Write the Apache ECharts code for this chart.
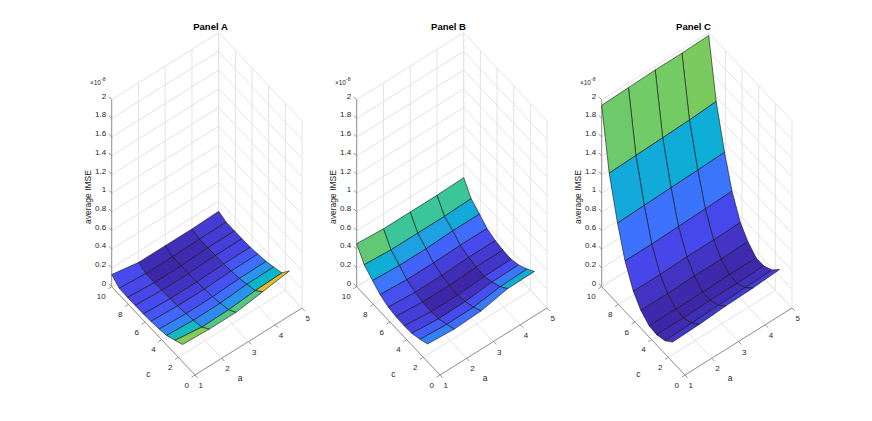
<!DOCTYPE html>
<html>
<head>
<meta charset="utf-8">
<script src="https://cdn.jsdelivr.net/npm/echarts@6/dist/echarts.min.js"></script>
<style>
  html, body { margin: 0; padding: 0; background: #fff; }
  #chart { width: 872px; height: 421px; }
</style>
</head>
<body>
<div id="chart"></div>
<script>
// surface grid
const aValues = [1, 2, 3, 4, 5]
const cValues = [1.5, 2.4, 3.4, 4.3, 5.3, 6.2, 7.2, 8.1, 9.1, 10]

// average IMSE in units of 1e-8, one row per c value, one column per a value
const imseA = [
    [0.185, 0.170, 0.170, 0.212, 0.255],
    [0.144, 0.106, 0.112, 0.138, 0.149],
    [0.102, 0.085, 0.089, 0.112, 0.117],
    [0.085, 0.070, 0.072, 0.089, 0.093],
    [0.074, 0.059, 0.059, 0.074, 0.076],
    [0.068, 0.051, 0.051, 0.063, 0.065],
    [0.065, 0.046, 0.046, 0.059, 0.061],
    [0.065, 0.042, 0.044, 0.057, 0.059],
    [0.068, 0.046, 0.048, 0.057, 0.059],
    [0.130, 0.080, 0.080, 0.080, 0.090]
]
const imseB = [
    [0.190, 0.170, 0.185, 0.245, 0.250],
    [0.155, 0.135, 0.140, 0.180, 0.190],
    [0.125, 0.100, 0.105, 0.135, 0.140],
    [0.120, 0.090, 0.090, 0.110, 0.115],
    [0.125, 0.100, 0.100, 0.115, 0.120],
    [0.140, 0.120, 0.120, 0.135, 0.135],
    [0.180, 0.160, 0.160, 0.170, 0.170],
    [0.245, 0.227, 0.227, 0.240, 0.240],
    [0.320, 0.300, 0.300, 0.300, 0.310],
    [0.460, 0.440, 0.440, 0.440, 0.450]
]
const imseC = [
    [0.21, 0.22, 0.24, 0.25, 0.27],
    [0.14, 0.15, 0.16, 0.17, 0.18],
    [0.11, 0.11, 0.12, 0.12, 0.13],
    [0.12, 0.12, 0.12, 0.13, 0.13],
    [0.19, 0.19, 0.20, 0.20, 0.21],
    [0.31, 0.31, 0.32, 0.32, 0.33],
    [0.54, 0.54, 0.55, 0.56, 0.57],
    [0.86, 0.87, 0.88, 0.89, 0.90],
    [1.30, 1.31, 1.32, 1.33, 1.35],
    [1.94, 1.95, 1.96, 1.96, 1.97]
]

const panelTitles = ['Panel A', 'Panel B', 'Panel C']
const aTicks = [1, 2, 3, 4, 5]
const cTicks = [0, 2, 4, 6, 8, 10]
const zTicks = [0, 0.2, 0.4, 0.6, 0.8, 1, 1.2, 1.4, 1.6, 1.8, 2]
const zTickLabels = ['0', '0.2', '0.4', '0.6', '0.8', '1', '1.2', '1.4', '1.6', '1.8', '2']

// axis limits of the box
const A_MIN = 1, A_MAX = 5, C_MIN = 0, C_MAX = 10, Z_MIN = 0, Z_MAX = 2

// screen step (px) per data unit along a, c and z
const VIEW = { ax: 26.75, ay: 16.75, cx: 8.33, cy: 8.83, zy: 93.5 }

// front corner (a=1, c=0, z=0) of each box, title centre
const PANELS = [
    { x: 195, y: 375, titleX: 210.5, data: imseA },
    { x: 440, y: 375, titleX: 448.5, data: imseB },
    { x: 685, y: 375, titleX: 693.5, data: imseC }
]

const FONT = '"Liberation Sans", Arial, Helvetica, sans-serif'
const TEXT = '#262626'
const GRID = '#e3e3e3'
const AXIS = '#8a8a8a'

// parula(10)
const PARULA = [
    [0.2422, 0.1504, 0.6603], [0.2803, 0.2782, 0.9221], [0.2440, 0.4358, 0.9988],
    [0.1540, 0.5902, 0.9218], [0.0297, 0.7082, 0.8163], [0.1938, 0.7758, 0.6251],
    [0.5044, 0.7993, 0.3480], [0.8634, 0.7406, 0.1596], [0.9892, 0.8136, 0.1885],
    [0.9769, 0.9839, 0.0805]
]

function parula(t) {
    t = Math.max(0, Math.min(1, t))
    const s = t * (PARULA.length - 1)
    const k = Math.min(Math.floor(s), PARULA.length - 2)
    const f = s - k
    const rgb = PARULA[k].map((v, i) => Math.round(255 * (v + (PARULA[k + 1][i] - v) * f)))
    return `rgb(${rgb.join(',')})`
}

// orthographic view: (a, c, z) -> flat coordinates of the hidden cartesian axes
function project(a, c, z) {
    return [
        (a - A_MIN) * VIEW.ax - (c - C_MIN) * VIEW.cx,
        (a - A_MIN) * VIEW.ay + (c - C_MIN) * VIEW.cy + (z - Z_MIN) * VIEW.zy
    ]
}

const X_LO = -(C_MAX - C_MIN) * VIEW.cx
const X_HI = (A_MAX - A_MIN) * VIEW.ax
const Y_HI = (A_MAX - A_MIN) * VIEW.ay + (C_MAX - C_MIN) * VIEW.cy + (Z_MAX - Z_MIN) * VIEW.zy

function unit(x, y) {
    const l = Math.hypot(x, y)
    return [x / l, y / l]
}
const DIR_C = unit(-VIEW.cx, -VIEW.cy)   // screen direction of +c
const DIR_A = unit(VIEW.ax, -VIEW.ay)    // screen direction of +a

function txt(text, x, y, align, vAlign, size, extra) {
    return Object.assign({
        type: 'text',
        style: { text, x, y, fill: TEXT, fontSize: size, fontFamily: FONT, align, verticalAlign: vAlign }
    }, extra || {})
}

// walls, floor grid, axes, ticks and labels of one box
function frameItem(panel) {
    return function (params, api) {
        const P = (a, c, z) => api.coord(project(a, c, z))
        const kids = []
        const seg = (p, q, stroke, w) => kids.push({
            type: 'line',
            shape: { x1: p[0], y1: p[1], x2: q[0], y2: q[1] },
            style: { stroke, lineWidth: w }
        })

        zTicks.forEach(z => {
            seg(P(A_MIN, C_MAX, z), P(A_MAX, C_MAX, z), GRID, 1)
            seg(P(A_MAX, C_MAX, z), P(A_MAX, C_MIN, z), GRID, 1)
        })
        aTicks.forEach(a => {
            seg(P(a, C_MAX, Z_MIN), P(a, C_MAX, Z_MAX), GRID, 1)
            seg(P(a, C_MIN, Z_MIN), P(a, C_MAX, Z_MIN), GRID, 1)
        })
        cTicks.forEach(c => {
            seg(P(A_MAX, c, Z_MIN), P(A_MAX, c, Z_MAX), GRID, 1)
            seg(P(A_MIN, c, Z_MIN), P(A_MAX, c, Z_MIN), GRID, 1)
        })

        // axis lines
        seg(P(A_MIN, C_MAX, Z_MIN), P(A_MIN, C_MAX, Z_MAX), AXIS, 0.9)
        seg(P(A_MIN, C_MIN, Z_MIN), P(A_MIN, C_MAX, Z_MIN), AXIS, 0.9)
        seg(P(A_MIN, C_MIN, Z_MIN), P(A_MAX, C_MIN, Z_MIN), AXIS, 0.9)

        const TL = 4
        zTicks.forEach((z, k) => {
            const p = P(A_MIN, C_MAX, z)
            seg(p, [p[0] + TL * DIR_C[0], p[1] + TL * DIR_C[1]], AXIS, 0.9)
            kids.push(txt(zTickLabels[k], p[0] - 5.5, p[1] - 3.5, 'right', 'middle', 8))
        })
        cTicks.forEach(c => {
            const p = P(A_MIN, c, Z_MIN)
            seg(p, [p[0] - TL * DIR_A[0], p[1] - TL * DIR_A[1]], AXIS, 0.9)
            kids.push(txt(String(c), p[0] - 6, p[1] + 10, 'right', 'middle', 8))
        })
        aTicks.forEach(a => {
            const p = P(a, C_MIN, Z_MIN)
            seg(p, [p[0] - TL * DIR_C[0], p[1] - TL * DIR_C[1]], AXIS, 0.9)
            kids.push(txt(String(a), p[0] + 3.5, p[1] + 10.7, 'left', 'middle', 8))
        })

        // exponent above the z axis
        const top = P(A_MIN, C_MAX, Z_MAX)
        kids.push(txt('\u00d710', top[0] - 21.8, top[1] - 17.5, 'left', 'middle', 6.5))
        kids.push(txt('-8', top[0] - 10.6, top[1] - 21, 'left', 'middle', 5))

        // axis names and title
        const o = P(A_MIN, C_MIN, Z_MIN)
        kids.push(txt('c', o[0] - 46.7, o[1] - 1, 'center', 'middle', 8.5))
        kids.push(txt('a', o[0] + 45, o[1] + 3.3, 'center', 'middle', 8.5))
        kids.push(txt('average IMSE', 0, 0, 'center', 'middle', 8.5,
            { x: o[0] - 106.7, y: o[1] - 178, rotation: Math.PI / 2 }))
        kids.push({
            type: 'text',
            style: {
                text: panelTitles[params.seriesIndex / 2], x: panel.titleX, y: 26,
                fill: '#000', fontSize: 9.5, fontWeight: 'bold', fontFamily: FONT,
                align: 'center', verticalAlign: 'middle'
            }
        })
        return { type: 'group', children: kids }
    }
}

// faces of one surface, far ones first (painter order)
function faceList(z) {
    const faces = []
    for (let j = 0; j < cValues.length - 1; j++) {
        for (let i = 0; i < aValues.length - 1; i++) {
            const ac = (aValues[i] + aValues[i + 1]) / 2
            const cc = (cValues[j] + cValues[j + 1]) / 2
            faces.push({ i, j, depth: (ac - A_MIN) * VIEW.ay + (cc - C_MIN) * VIEW.cy })
        }
    }
    faces.sort((p, q) => q.depth - p.depth)
    return faces
}

function surfaceItem(z, faces) {
    const flat = z.flat()
    const lo = Math.min(...flat), hi = Math.max(...flat)
    return function (params, api) {
        const f = faces[params.dataIndex]
        const i = f.i, j = f.j
        const pts = [
            [aValues[i], cValues[j], z[j][i]],
            [aValues[i + 1], cValues[j], z[j][i + 1]],
            [aValues[i + 1], cValues[j + 1], z[j + 1][i + 1]],
            [aValues[i], cValues[j + 1], z[j + 1][i]]
        ].map(p => api.coord(project(p[0], p[1], p[2])))
        return {
            type: 'polygon',
            z2: params.dataIndex,
            shape: { points: pts },
            // flat shading: colour of the first corner of the face
            style: { fill: parula((z[j][i] - lo) / (hi - lo)), stroke: '#111', lineWidth: 0.6, lineJoin: 'round' }
        }
    }
}

const chart = echarts.init(document.getElementById('chart'), null, { renderer: 'svg' })

const grids = [], xAxes = [], yAxes = [], series = []
PANELS.forEach((panel, k) => {
    grids.push({ left: panel.x + X_LO, top: panel.y - Y_HI, width: X_HI - X_LO, height: Y_HI, containLabel: false })
    xAxes.push({ type: 'value', gridIndex: k, min: X_LO, max: X_HI, show: false })
    yAxes.push({ type: 'value', gridIndex: k, min: 0, max: Y_HI, show: false })
    const faces = faceList(panel.data)
    series.push({
        type: 'custom', xAxisIndex: k, yAxisIndex: k, silent: true, z: 1,
        data: [[0, 0]], renderItem: frameItem(panel)
    })
    series.push({
        type: 'custom', xAxisIndex: k, yAxisIndex: k, silent: true, z: 2,
        data: faces.map(f => [f.i, f.j]), renderItem: surfaceItem(panel.data, faces)
    })
})

chart.setOption({
    animation: false,
    backgroundColor: '#fff',
    grid: grids,
    xAxis: xAxes,
    yAxis: yAxes,
    series
})
</script>
</body>
</html>
